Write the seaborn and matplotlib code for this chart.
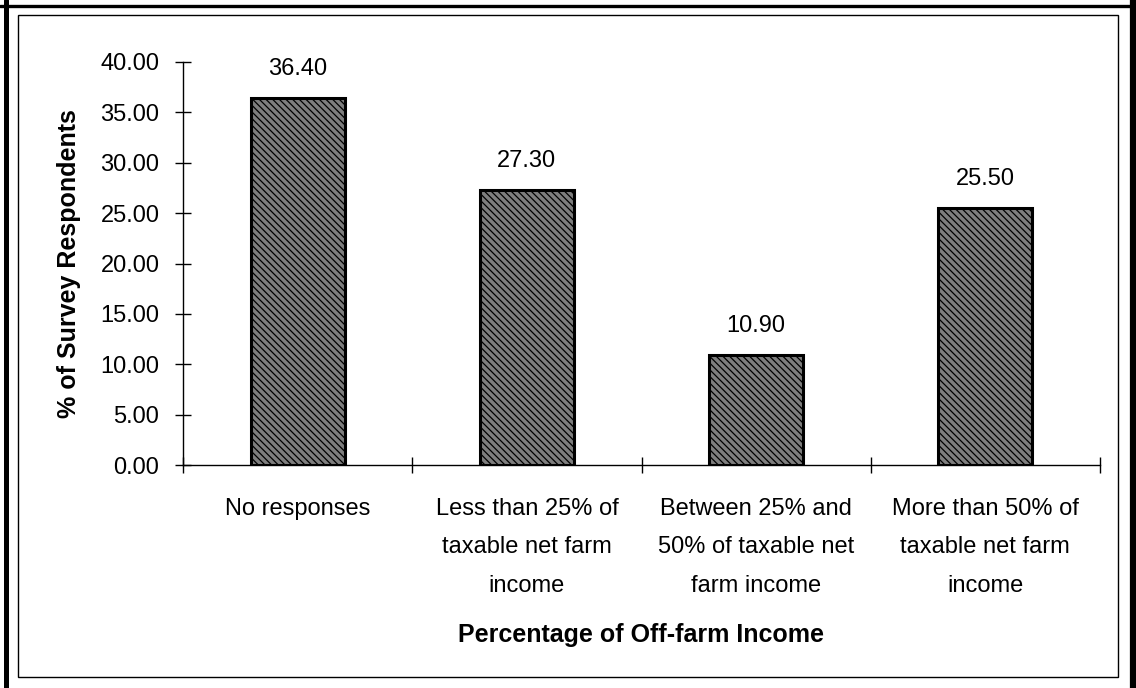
import matplotlib
matplotlib.use("Agg")
import matplotlib.pyplot as plt
from matplotlib.lines import Line2D
from matplotlib.patches import Rectangle
import seaborn as sns
import pandas as pd

categories = [
    "No responses",
    "Less than 25% of\ntaxable net farm\nincome",
    "Between 25% and\n50% of taxable net\nfarm income",
    "More than 50% of\ntaxable net farm\nincome",
]
values = [36.40, 27.30, 10.90, 25.50]
y_ticks = [0, 5, 10, 15, 20, 25, 30, 35, 40]

sns.set_theme(style="white")
plt.rcParams["font.family"] = ["Liberation Sans", "DejaVu Sans"]
plt.rcParams["text.color"] = "black"
plt.rcParams["axes.labelcolor"] = "black"
plt.rcParams["xtick.color"] = "black"
plt.rcParams["ytick.color"] = "black"
plt.rcParams["hatch.color"] = "#cacaca"
plt.rcParams["hatch.linewidth"] = 0.9

W, H = 1136, 688
df = pd.DataFrame({"category": categories, "share": values})

fig = plt.figure(figsize=(W / 100, H / 100), dpi=100)
ax = fig.add_axes([183 / W, 1 - 465 / H, 917 / W, 403 / H])

sns.barplot(data=df, x="category", y="share", ax=ax, color="#7e7e7e",
            width=0.41, saturation=1, edgecolor="black", linewidth=2.2)
for bar in ax.patches:
    bar.set_hatch("\\\\\\\\\\")

for i, v in enumerate(values):
    ax.text(i, v + 2.9, f"{v:.2f}", ha="center", va="center", fontsize=17)

ax.set_xlim(-0.5, 3.5)
ax.set_ylim(0, 40)
ax.set_yticks(y_ticks)
ax.set_yticklabels([f"{t:.2f}" for t in y_ticks], fontsize=17)

ax.set_xticks([-0.5, 0.5, 1.5, 2.5, 3.5])
ax.set_xticklabels([])
ax.set_xticks(range(len(categories)), minor=True)
ax.set_xticklabels(categories, minor=True, fontsize=17, linespacing=1.95)
ax.tick_params(axis="x", which="minor", bottom=True, length=0, pad=24)
ax.tick_params(axis="x", which="major", bottom=True, direction="inout",
               length=12, width=1)
ax.tick_params(axis="y", left=True, direction="inout", length=12, width=1,
               pad=11)

for side in ["top", "right"]:
    ax.spines[side].set_visible(False)
for side in ["left", "bottom"]:
    ax.spines[side].set_color("black")
    ax.spines[side].set_linewidth(1)

ax.set_xlabel("Percentage of Off-farm Income", fontsize=18,
              fontweight="bold", labelpad=19)
ax.set_ylabel("% of Survey Respondents", fontsize=18, fontweight="bold",
              labelpad=14)

# outer heavy frame (left, top, right) and inner thin frame
def px(x, y):
    return x / W, 1 - y / H

for (x0, y0), (x1, y1), lw in [((6, 0), (6, H), 3.6),
                               ((0, 6), (W, 6), 2.4),
                               ((1133, 0), (1133, H), 4.5)]:
    fig.lines.append(Line2D(*zip(px(x0, y0), px(x1, y1)),
                            transform=fig.transFigure, color="black",
                            linewidth=lw))
fig.patches.append(Rectangle(px(18, 677), 1100 / W, 662 / H,
                             transform=fig.transFigure, fill=False,
                             edgecolor="black", linewidth=1))

fig.savefig("out.png", dpi=100, facecolor="white")
